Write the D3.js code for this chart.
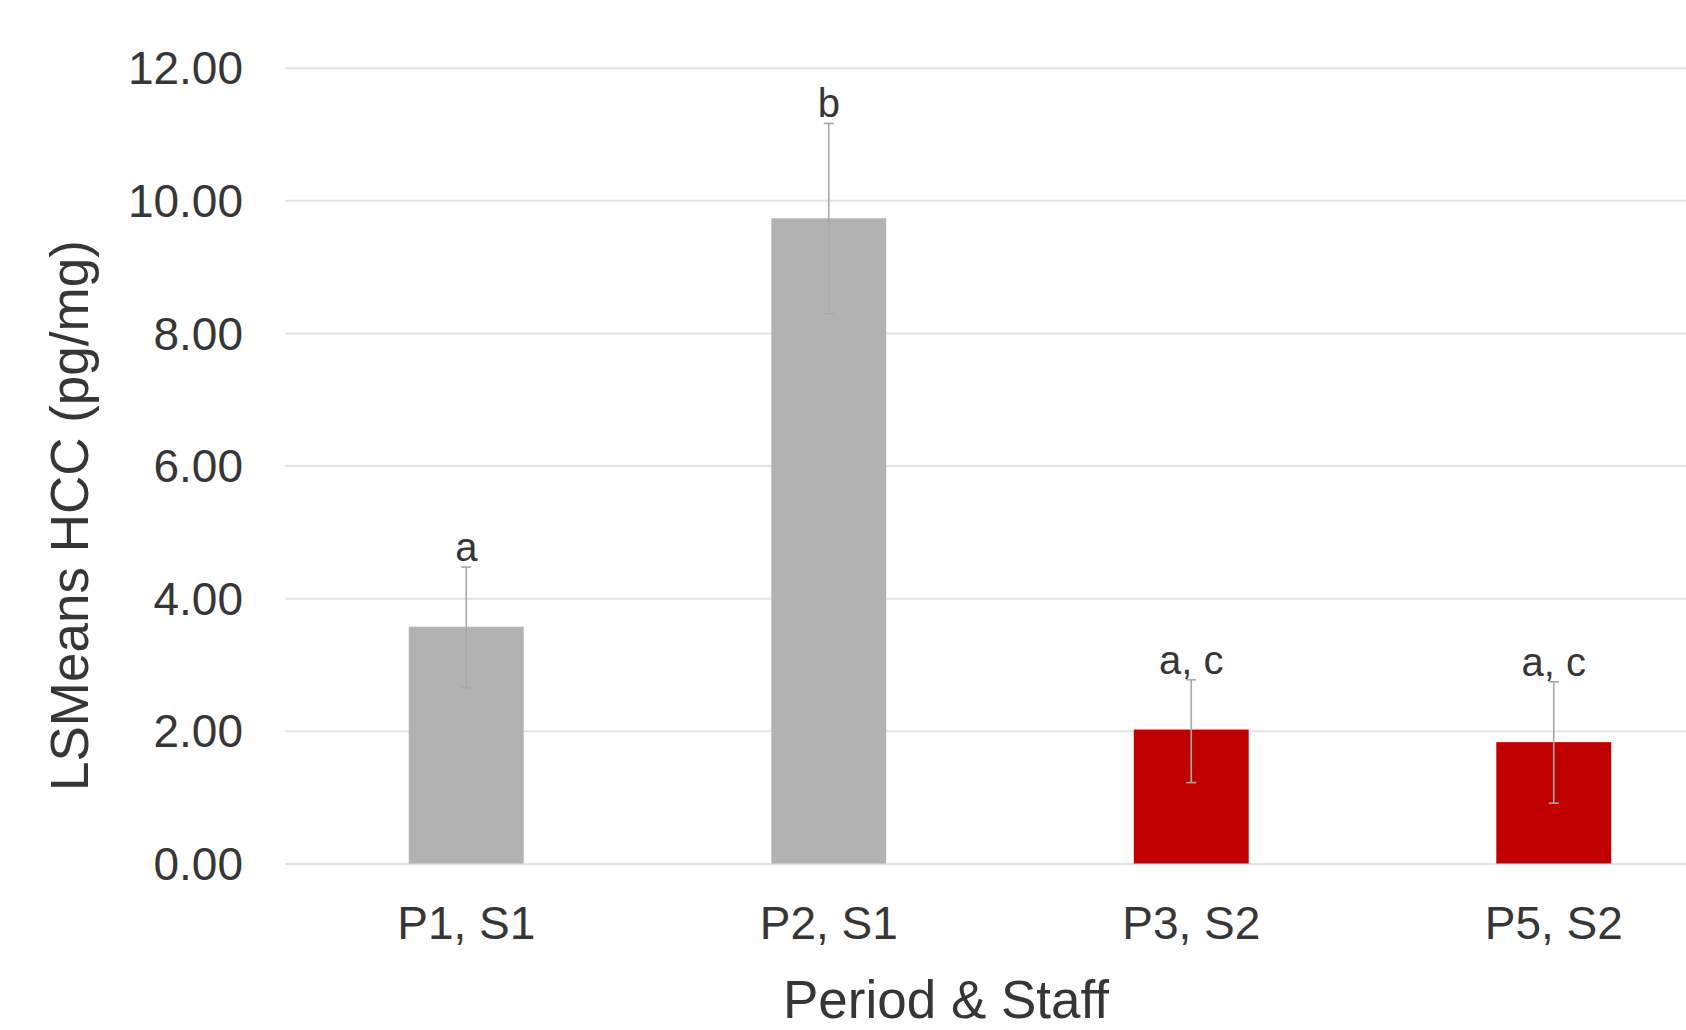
<!DOCTYPE html>
<html>
<head>
<meta charset="utf-8">
<script src="https://cdn.jsdelivr.net/npm/d3@7"></script>
<style>
  html, body { margin: 0; padding: 0; background: #fff; }
  svg { display: block; font-family: "Liberation Sans", Arial, sans-serif; }
</style>
</head>
<body>
<svg id="chart" width="1686" height="1030"></svg>
<script>
const categories = ["P1, S1", "P2, S1", "P3, S2", "P5, S2"];
const means      = [3.57, 9.73, 2.02, 1.83];
const errUpper   = [4.47, 11.16, 2.77, 2.74];
const errLower   = [2.65, 8.29, 1.22, 0.91];
const sigLabels  = ["a", "b", "a, c", "a, c"];
const groups     = ["S1", "S1", "S2", "S2"];
const yTicks     = [0, 2, 4, 6, 8, 10, 12];

const W = 1686, H = 1030;
const plot = { left: 285, right: 1735, top: 67.7, bottom: 863.5 };

const svg = d3.select("#chart");

const x = d3.scaleBand()
  .domain(categories)
  .range([plot.left, plot.right])
  .paddingInner(0.683)
  .paddingOuter(0.3415);

const y = d3.scaleLinear()
  .domain([0, 12])
  .range([plot.bottom, plot.top]);

const color = d3.scaleOrdinal().domain(["S1", "S2"]).range(["#b2b2b2", "#c00000"]);

// gridlines + y tick labels
const yAxis = d3.axisLeft(y)
  .tickValues(yTicks)
  .tickSize(-(plot.right - plot.left))
  .tickPadding(42)
  .tickFormat(d3.format(".2f"));

const gy = svg.append("g")
  .attr("transform", `translate(${plot.left},0)`)
  .call(yAxis);
gy.select(".domain").remove();
gy.selectAll(".tick line").attr("stroke", "#e3e3e3").attr("stroke-width", 2);
gy.selectAll(".tick text")
  .attr("fill", "#363636")
  .attr("font-size", 46)
  .attr("dy", "0.35em");

// x axis labels
const xAxis = d3.axisBottom(x).tickSize(0).tickPadding(0);
const gx = svg.append("g")
  .attr("transform", `translate(0,${plot.bottom})`)
  .call(xAxis);
gx.select(".domain").remove();
gx.selectAll(".tick text")
  .attr("fill", "#363636")
  .attr("font-size", 46)
  .attr("dy", null)
  .attr("y", 939 - plot.bottom);

// bars
const data = categories.map((c, i) => ({
  cat: c, mean: means[i], hi: errUpper[i], lo: errLower[i], lab: sigLabels[i], grp: groups[i]
}));

svg.append("g").selectAll("rect")
  .data(data).join("rect")
  .attr("x", d => x(d.cat))
  .attr("width", x.bandwidth())
  .attr("y", d => y(d.mean))
  .attr("height", d => y(0) - y(d.mean))
  .attr("fill", d => color(d.grp));

// error bars
const eg = svg.append("g").attr("stroke", "#a8a8a8").attr("stroke-width", 1.6).attr("fill", "none");
const cx = d => x(d.cat) + x.bandwidth() / 2;
eg.selectAll("line.v").data(data).join("line").attr("class", "v")
  .attr("x1", cx).attr("x2", cx)
  .attr("y1", d => y(d.hi)).attr("y2", d => y(d.lo));
eg.selectAll("line.t").data(data).join("line").attr("class", "t")
  .attr("x1", d => cx(d) - 5).attr("x2", d => cx(d) + 5)
  .attr("y1", d => y(d.hi)).attr("y2", d => y(d.hi));
eg.selectAll("line.b").data(data).join("line").attr("class", "b")
  .attr("x1", d => cx(d) - 5).attr("x2", d => cx(d) + 5)
  .attr("y1", d => y(d.lo)).attr("y2", d => y(d.lo));

// significance labels
svg.append("g").selectAll("text")
  .data(data).join("text")
  .attr("x", cx)
  .attr("y", d => y(d.hi) - 6)
  .attr("text-anchor", "middle")
  .attr("font-size", 40)
  .attr("fill", "#363636")
  .text(d => d.lab);

// axis titles
svg.append("text")
  .attr("x", 946)
  .attr("y", 1018)
  .attr("text-anchor", "middle")
  .attr("font-size", 53)
  .attr("fill", "#363636")
  .text("Period & Staff");

svg.append("text")
  .attr("transform", `translate(88,515.6) rotate(-90)`)
  .attr("text-anchor", "middle")
  .attr("font-size", 53)
  .attr("fill", "#363636")
  .text("LSMeans HCC (pg/mg)");
</script>
</body>
</html>
